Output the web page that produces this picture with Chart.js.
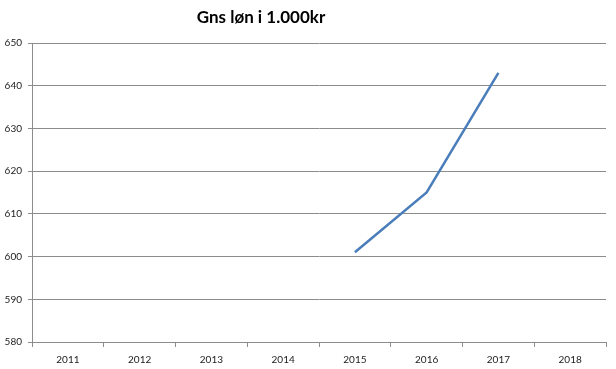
<!DOCTYPE html>
<html>
<head>
<meta charset="utf-8">
<script src="https://cdn.jsdelivr.net/npm/chart.js@4"></script>
<style>
  body { margin: 0; background: #fff; }
  #wrap { position: relative; width: 616px; height: 369px; }
  #title {
    position: absolute; top: 6px; left: 161px; width: 200px; text-align: center;
    font: bold 17px Lato, "Open Sans", sans-serif; color: #000;
  }
</style>
</head>
<body>
<div id="wrap">
  <div id="title">Gns løn i 1.000kr</div>
  <canvas id="lonChart" width="616" height="369"></canvas>
</div>
<script>
const years = ["2011", "2012", "2013", "2014", "2015", "2016", "2017", "2018"];
const lon = [null, null, null, null, 601, 615, 643, null];
const yMin = 580;
const yMax = 650;
const yStep = 10;

const ctx = document.getElementById('lonChart');
const gridColor = '#8c8c8c';

new Chart(ctx, {
  type: 'line',
  data: {
    labels: years,
    datasets: [{
      label: 'Gns løn',
      data: lon,
      borderColor: '#4a7ebb',
      borderWidth: 2.5,
      pointRadius: 0,
      tension: 0
    }]
  },
  options: {
    responsive: false,
    animation: false,
    layout: { padding: { top: 43, right: 10, bottom: 0, left: 0 } },
    plugins: {
      legend: { display: false },
      title: { display: false },
      tooltip: { enabled: false }
    },
    scales: {
      x: {
        offset: true,
        grid: { offset: true, drawOnChartArea: false, drawTicks: true, tickLength: 5, color: gridColor },
        border: { color: gridColor },
        ticks: { color: '#222', font: { family: 'Lato', size: 10 }, padding: 7, maxRotation: 0 },
        afterFit: s => { s.height = 27; }
      },
      y: {
        min: yMin,
        max: yMax,
        grid: { color: gridColor, tickLength: 4 },
        border: { color: gridColor },
        ticks: { stepSize: yStep, color: '#222', font: { family: 'Lato', size: 10 }, padding: 6 },
        afterFit: s => { s.width = 32; }
      }
    }
  }
});
</script>
</body>
</html>
